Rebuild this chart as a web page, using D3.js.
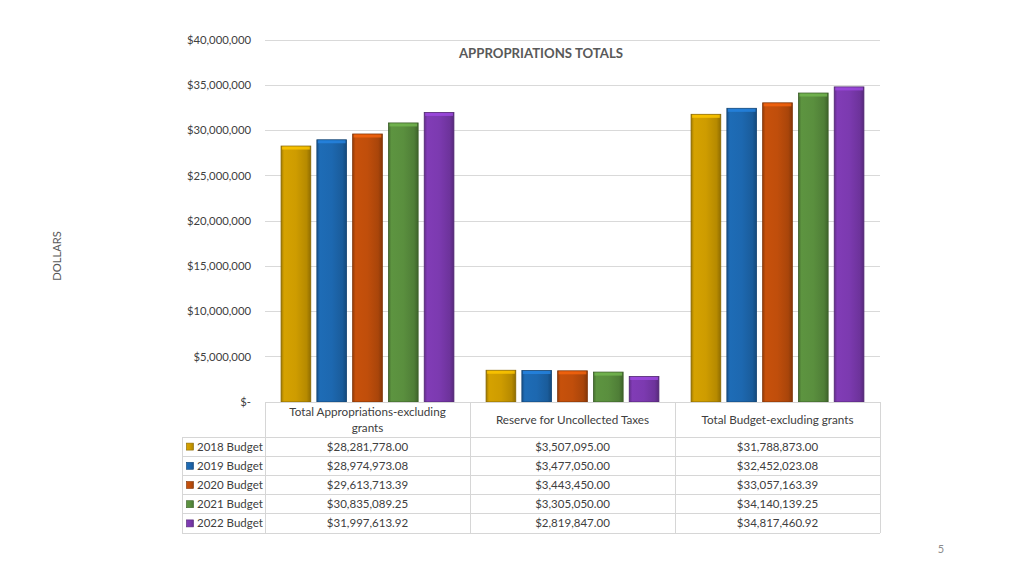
<!DOCTYPE html>
<html><head><meta charset="utf-8">
<script src="https://cdn.jsdelivr.net/npm/d3@7/dist/d3.min.js"></script>
<style>body{margin:0;background:#fff;} svg{display:block;font-family:Lato,"Open Sans",sans-serif;}</style>
</head><body><svg id="c" width="1024" height="576"></svg>
<script>
const categories = ["Total Appropriations-excluding grants", "Reserve for Uncollected Taxes", "Total Budget-excluding grants"];
const seriesNames = ["2018 Budget", "2019 Budget", "2020 Budget", "2021 Budget", "2022 Budget"];
const seriesColors = ["#CE9C00", "#1D68B0", "#C04E0B", "#5A8F3E", "#7C3AB0"];
const v2018 = [28281778.00, 3507095.00, 31788873.00];
const v2019 = [28974973.08, 3477050.00, 32452023.08];
const v2020 = [29613713.39, 3443450.00, 33057163.39];
const v2021 = [30835089.25, 3305050.00, 34140139.25];
const v2022 = [31997613.92, 2819847.00, 34817460.92];
const yTicks = [0, 5000000, 10000000, 15000000, 20000000, 25000000, 30000000, 35000000, 40000000];
const seriesValues = [v2018, v2019, v2020, v2021, v2022];

(function () {
const svg = d3.select("#c");
const pLeft = 265, pRight = 880, pTop = 40, pBottom = 402;
const x0 = d3.scaleBand().domain(categories).range([pLeft, pRight]).paddingInner(0).paddingOuter(0);
const x1 = d3.scaleBand().domain(seriesNames).range([15, x0.bandwidth() - 15]).paddingInner(0.17).paddingOuter(0.03);
const y = d3.scaleLinear().domain([0, 40000000]).range([pBottom, pTop]);

const defs = svg.append("defs");
seriesColors.forEach((c, i) => {
  const g = defs.append("linearGradient").attr("id", "g" + i).attr("x1", 0).attr("x2", 1).attr("y1", 0).attr("y2", 0);
  const base = d3.color(c);
  g.append("stop").attr("offset", "0%").attr("stop-color", base.darker(0.7));
  g.append("stop").attr("offset", "10%").attr("stop-color", base.brighter(0.1));
  g.append("stop").attr("offset", "50%").attr("stop-color", base);
  g.append("stop").attr("offset", "86%").attr("stop-color", base.darker(0.35));
  g.append("stop").attr("offset", "100%").attr("stop-color", base.darker(1.0));
});

svg.append("g").selectAll("line").data(yTicks.filter(d => d > 0)).join("line")
  .attr("x1", pLeft).attr("x2", pRight).attr("y1", d => y(d)).attr("y2", d => y(d))
  .attr("stroke", "#d9d9d9").attr("stroke-width", 1).attr("shape-rendering", "crispEdges");

const fmtTick = d => d === 0 ? "$-" : d3.format("$,")(d);
svg.append("g").selectAll("text").data(yTicks).join("text")
  .attr("x", 251).attr("y", d => y(d)).attr("dy", "0.35em").attr("text-anchor", "end")
  .attr("font-size", 11.3).attr("fill", "#404040").text(fmtTick);

svg.append("text").attr("x", 541).attr("y", 58).attr("text-anchor", "middle")
  .attr("font-size", 13.2).attr("font-weight", "bold").attr("fill", "#595959").text("APPROPRIATIONS TOTALS");

svg.append("text").attr("transform", "translate(61,256) rotate(-90)").attr("text-anchor", "middle")
  .attr("font-size", 11.2).attr("fill", "#595959").text("DOLLARS");

seriesNames.forEach((s, si) => {
  const gs = svg.append("g");
  const vals = seriesValues[si];
  categories.forEach((c, ci) => {
    const bx = x0(c) + x1(s), bw = x1.bandwidth(), by = y(vals[ci]), bh = pBottom - y(vals[ci]);
    const base = d3.color(seriesColors[si]);
    gs.append("rect").attr("x", bx).attr("y", by).attr("width", bw).attr("height", bh)
      .attr("fill", `url(#g${si})`).attr("stroke", base.darker(1.2)).attr("stroke-width", 0.8);
    gs.append("rect").attr("x", bx + 1).attr("y", by + 0.5).attr("width", bw - 2).attr("height", 3)
      .attr("fill", base.brighter(0.7)).attr("opacity", 0.8);
  });
});

const tg = svg.append("g");
const rowH = 19.2, headTop = pBottom, headBot = 437;
const stroke = "#d6d6d6";
[pLeft, x0(categories[1]), x0(categories[2]), pRight].forEach(xx => {
  tg.append("line").attr("x1", xx).attr("x2", xx).attr("y1", headTop).attr("y2", headBot + rowH * 5)
    .attr("stroke", stroke).attr("shape-rendering", "crispEdges");
});
tg.append("line").attr("x1", 182).attr("x2", 182).attr("y1", headBot).attr("y2", headBot + rowH * 5)
  .attr("stroke", stroke).attr("shape-rendering", "crispEdges");
tg.append("line").attr("x1", pLeft).attr("x2", pRight).attr("y1", headTop).attr("y2", headTop)
  .attr("stroke", stroke).attr("shape-rendering", "crispEdges");
for (let r = 0; r <= 5; r++) {
  tg.append("line").attr("x1", 182).attr("x2", pRight).attr("y1", headBot + r * rowH).attr("y2", headBot + r * rowH)
    .attr("stroke", stroke).attr("shape-rendering", "crispEdges");
}
const fs = 11.7;
categories.forEach((c, ci) => {
  const cx = x0(c) + x0.bandwidth() / 2;
  if (ci === 0) {
    const t = tg.append("text").attr("x", cx).attr("text-anchor", "middle").attr("font-size", fs).attr("fill", "#404040");
    t.append("tspan").attr("x", cx).attr("y", 416).text("Total Appropriations-excluding");
    t.append("tspan").attr("x", cx).attr("y", 432).text("grants");
  } else {
    tg.append("text").attr("x", cx).attr("y", 424).attr("text-anchor", "middle").attr("font-size", fs).attr("fill", "#404040").text(c);
  }
});
const fmtVal = d3.format("$,.2f");
seriesNames.forEach((s, si) => {
  const ry = headBot + si * rowH + rowH / 2;
  const base = d3.color(seriesColors[si]);
  tg.append("rect").attr("x", 186.5).attr("y", ry - 3.5).attr("width", 7).attr("height", 7)
    .attr("fill", `url(#g${si})`).attr("stroke", base.darker(1)).attr("stroke-width", 0.6);
  tg.append("text").attr("x", 197).attr("y", ry).attr("dy", "0.35em").attr("font-size", 11.5).attr("fill", "#404040").text(s);
  categories.forEach((c, ci) => {
    tg.append("text").attr("x", x0(c) + x0.bandwidth() / 2).attr("y", ry).attr("dy", "0.35em")
      .attr("text-anchor", "middle").attr("font-size", 11.5).attr("fill", "#404040").text(fmtVal(seriesValues[si][ci]));
  });
});

svg.append("text").attr("x", 941).attr("y", 553).attr("text-anchor", "middle").attr("font-size", 11).attr("fill", "#8c8c8c").text("5");
})();
</script></body></html>
